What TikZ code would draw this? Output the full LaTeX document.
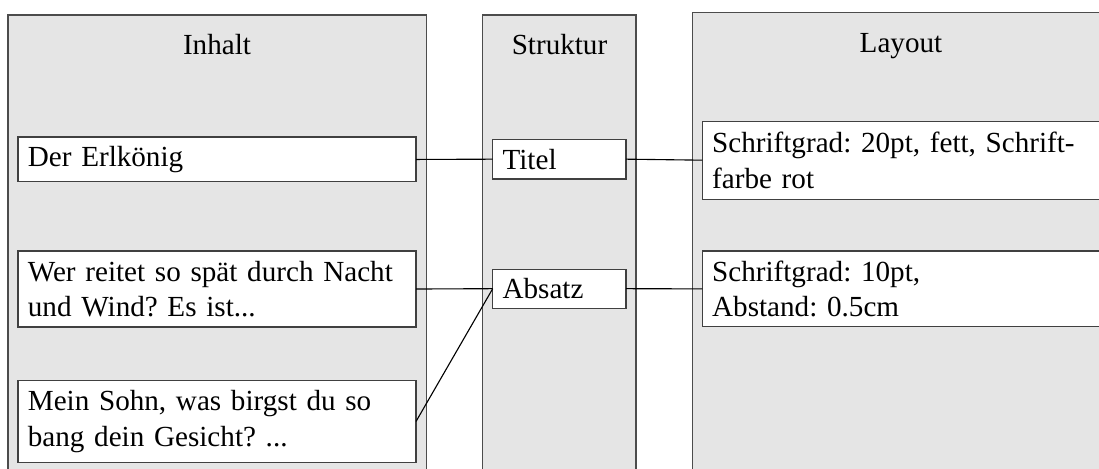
\documentclass[tikz,border=0pt]{standalone}
\usepackage{fontspec}
\setmainfont{Liberation Serif}
\begin{document}
\begin{tikzpicture}[x=0.405pt,y=-0.405pt,
  colbox/.style={draw=black!70,fill=gray!20,line width=0.45pt},
  textbox/.style={draw=black!75,fill=white,line width=0.45pt,anchor=north west,
    inner xsep=4pt,inner ysep=0pt,outer sep=0pt,align=left,
    font=\fontsize{11.8}{14.4}\selectfont\frenchspacing},
  coltitle/.style={anchor=base,inner sep=0pt,font=\fontsize{11.8}{14.4}\selectfont},
  link/.style={draw=black,line width=0.45pt}]
\useasboundingbox (0,0) rectangle (1099,469);
\clip (0,0) rectangle (1099,469);
% columns
\draw[colbox] (8,15) rectangle (426.7,490);
\draw[colbox] (482.7,15) rectangle (636,490);
\draw[colbox] (692.3,12.5) rectangle (1110,490);
% titles
\node[coltitle] (tInhalt) at (217,55) {Inhalt};
\node[coltitle] (tStruktur) at (559.5,55) {Struktur};
\node[coltitle] (tLayout) at (901,52.3) {Layout};
% content boxes
\node[textbox,text width=153.2pt,minimum height=18.2pt] (erl) at (18,137) {Der Erlkönig};
\node[textbox,text width=153.2pt,minimum height=30.8pt] (wer) at (18,251) {Wer reitet so spät durch Nacht\\und Wind? Es ist...};
\node[textbox,text width=153.2pt,minimum height=33pt] (mein) at (18,380.7) {Mein Sohn, was birgst du so\\bang dein Gesicht? ...};
% structure boxes
\node[textbox,text width=46pt,minimum height=16.1pt] (titel) at (492.7,139.3) {Titel};
\node[textbox,text width=46pt,minimum height=15.7pt] (absatz) at (492.7,269.3) {Absatz};
% layout boxes
\node[textbox,text width=161.2pt,minimum height=31.5pt] (lay1) at (702.3,121.3) {Schriftgrad:\ 20pt, fett, Schrift-\\farbe rot};
\node[textbox,text width=161.2pt,minimum height=30.7pt] (lay2) at (702.3,251) {Schriftgrad:\ 10pt,\\Abstand: 0.5cm};
% connectors
\draw[link] (erl.east) -- (titel.west);
\draw[link] (titel.east) -- (lay1.west);
\draw[link] (wer.east) -- (absatz.west);
\draw[link] (mein.east) -- (absatz.west);
\draw[link] (absatz.east) -- (lay2.west);
\end{tikzpicture}
\end{document}
